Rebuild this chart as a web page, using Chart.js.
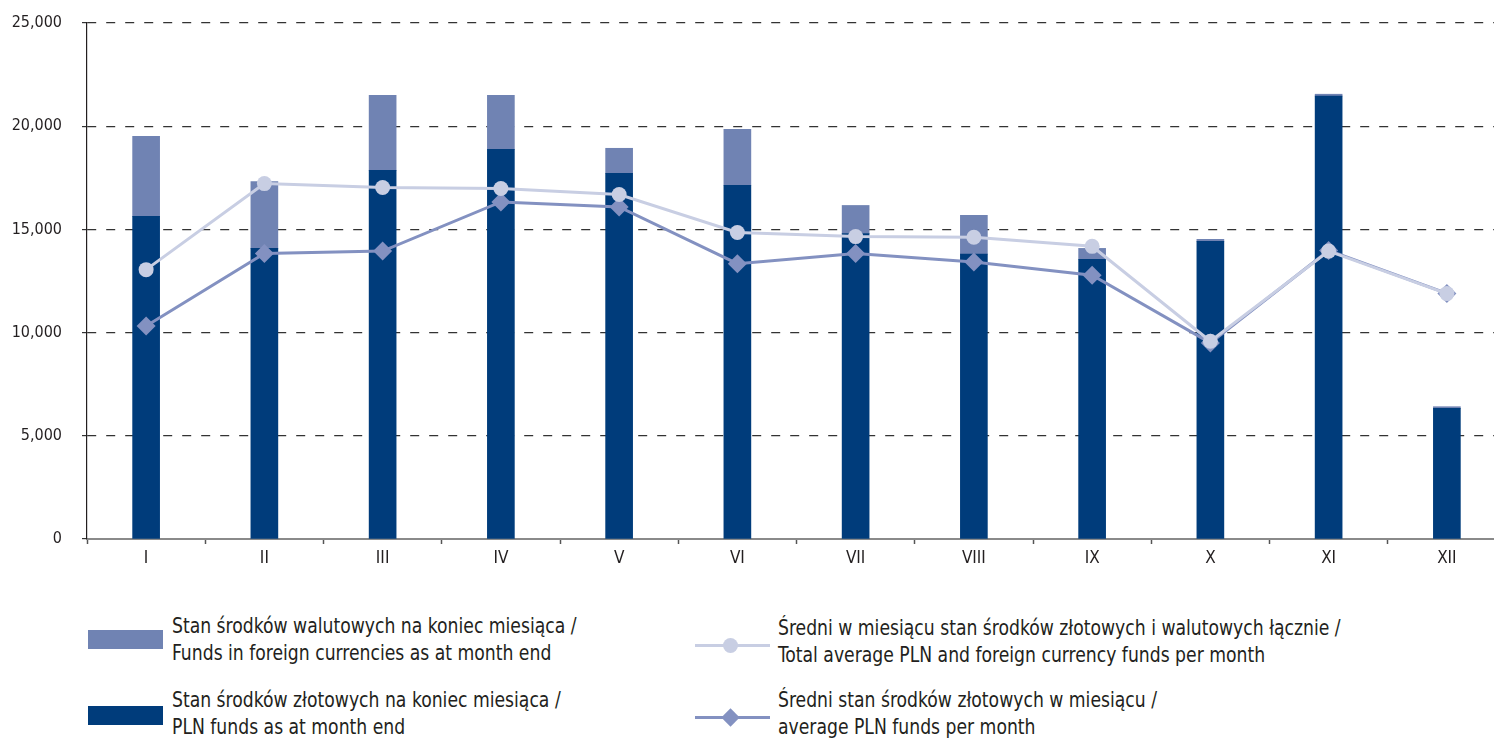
<!DOCTYPE html>
<html>
<head>
<meta charset="utf-8">
<script src="https://cdn.jsdelivr.net/npm/chart.js@4.4.1/dist/chart.umd.min.js"></script>
<style>
  html, body { margin: 0; padding: 0; background: #fff; overflow: hidden; }
  body { width: 1494px; height: 738px; position: relative; font-family: "DejaVu Sans Condensed", "Liberation Sans Narrow", sans-serif; color: #231f20; }
  #wrap { position: absolute; left: 0; top: 0; width: 1506px; height: 580px; }
  .lg { position: absolute; font-size: 22px; line-height: 27px; white-space: nowrap; transform: scaleX(0.87); transform-origin: 0 0; }
  .sw { position: absolute; width: 75px; height: 19px; }
  .ln { position: absolute; width: 75px; height: 3px; }
  .dot { position: absolute; width: 15px; height: 15px; border-radius: 50%; }
  .dia { position: absolute; width: 13px; height: 13px; transform: rotate(45deg); }
</style>
</head>
<body>
<div id="wrap"><canvas id="graf"></canvas></div>
<div id="legend"></div>
<script>
// months
var miesiace = ['I', 'II', 'III', 'IV', 'V', 'VI', 'VII', 'VIII', 'IX', 'X', 'XI', 'XII'];

// end of month balances (stacked bars)
var zlotowe = [15630, 14080, 17860, 18880, 17720, 17140, 14800, 13800, 13550, 14420, 21460, 6330];
var walutowe = [3880, 3240, 3640, 2620, 1210, 2710, 1360, 1880, 530, 100, 90, 80];

// monthly averages (lines)
var sredniLacznie = [13050, 17220, 17030, 16980, 16690, 14850, 14650, 14620, 14180, 9580, 13950, 11890];
var sredniZlotowe = [10320, 13830, 13950, 16330, 16090, 13340, 13830, 13420, 12780, 9500, 13980, 11900];

var yTicks = [0, 5000, 10000, 15000, 20000, 25000];

var etykiety = [
    ['Stan środków walutowych na koniec miesiąca /', 'Funds in foreign currencies as at month end'],
    ['Stan środków złotowych na koniec miesiąca /', 'PLN funds as at month end'],
    ['Średni w miesiącu stan środków złotowych i walutowych łącznie /', 'Total average PLN and foreign currency funds per month'],
    ['Średni  stan środków złotowych w miesiącu /', 'average PLN funds per month']
];

var granat = '#003c7b';
var niebieski = '#7083b3';
var jasny = '#c8cee3';
var sredni = '#8391c1';

var font = "'DejaVu Sans Condensed', 'Liberation Sans Narrow', sans-serif";

var canvas = document.getElementById('graf');
canvas.width = 1506;
canvas.height = 580;

var chart = new Chart(canvas.getContext('2d'), {
    type: 'bar',
    data: {
        labels: miesiace,
        datasets: [{
            label: etykiety[1].join(' '),
            data: zlotowe,
            backgroundColor: granat,
            stack: 'stan',
            barThickness: 27,
            order: 3
        }, {
            label: etykiety[0].join(' '),
            data: walutowe,
            backgroundColor: niebieski,
            stack: 'stan',
            barThickness: 27,
            order: 3
        }, {
            type: 'line',
            label: etykiety[2].join(' '),
            data: sredniLacznie,
            stack: 'l1',
            borderColor: jasny,
            backgroundColor: jasny,
            borderWidth: 3,
            pointStyle: 'circle',
            pointRadius: 7.5,
            pointBorderWidth: 0,
            tension: 0,
            order: 0
        }, {
            type: 'line',
            label: etykiety[3].join(' '),
            data: sredniZlotowe,
            stack: 'l2',
            borderColor: sredni,
            backgroundColor: sredni,
            borderWidth: 3,
            pointStyle: 'rectRot',
            pointRadius: 9.5,
            pointBorderWidth: 0,
            tension: 0,
            order: 1
        }]
    },
    options: {
        responsive: false,
        animation: false,
        layout: { autoPadding: false, padding: { top: 23, right: 0, left: 0, bottom: 0 } },
        plugins: {
            legend: { display: false },
            tooltip: { enabled: false }
        },
        scales: {
            x: {
                stacked: true,
                offset: true,
                afterFit: function (s) { s.height = 41; s.paddingLeft = 0; s.paddingRight = 0; },
                grid: { display: true, drawOnChartArea: false, offset: true, tickLength: 5, tickColor: '#555', tickWidth: 1.5 },
                border: { display: true, color: '#8a8a8a', width: 2 },
                ticks: { color: '#231f20', padding: 4, font: { family: font, size: 17 } }
            },
            y: {
                stacked: true,
                min: 0,
                max: 25000,
                afterFit: function (s) { s.width = 87; s.paddingTop = 0; s.paddingBottom = 0; },
                afterBuildTicks: function (s) { s.ticks = yTicks.map(function (v) { return { value: v }; }); },
                grid: {
                    color: function (c) { return c.tick && c.tick.value === 0 ? 'rgba(0,0,0,0)' : '#333'; },
                    lineWidth: 1.2,
                    tickLength: 5,
                    tickColor: '#333'
                },
                border: { display: true, color: '#231f20', width: 1.2, dash: [9, 10] },
                ticks: {
                    color: '#231f20',
                    padding: 20,
                    font: { family: font, size: 16 },
                    callback: function (v) { return v.toLocaleString('en-US'); }
                }
            }
        }
    }
});

// legend built from the same labels and colours
var legend = document.getElementById('legend');
var html = '';
html += '<div class="sw" style="left:88px;top:630px;background:' + niebieski + '"></div>';
html += '<div class="lg" style="left:172px;top:612px">' + etykiety[0].join('<br>') + '</div>';
html += '<div class="sw" style="left:88px;top:706px;background:' + granat + '"></div>';
html += '<div class="lg" style="left:172px;top:686px">' + etykiety[1].join('<br>') + '</div>';
html += '<div class="ln" style="left:695px;top:644px;background:' + jasny + '"></div>';
html += '<div class="dot" style="left:723px;top:638px;background:' + jasny + '"></div>';
html += '<div class="lg" style="left:778px;top:614px">' + etykiety[2].join('<br>') + '</div>';
html += '<div class="ln" style="left:695px;top:716px;background:' + sredni + '"></div>';
html += '<div class="dia" style="left:724px;top:711px;background:' + sredni + '"></div>';
html += '<div class="lg" style="left:778px;top:686px">' + etykiety[3].join('<br>') + '</div>';
legend.innerHTML = html;
</script>
</body>
</html>
